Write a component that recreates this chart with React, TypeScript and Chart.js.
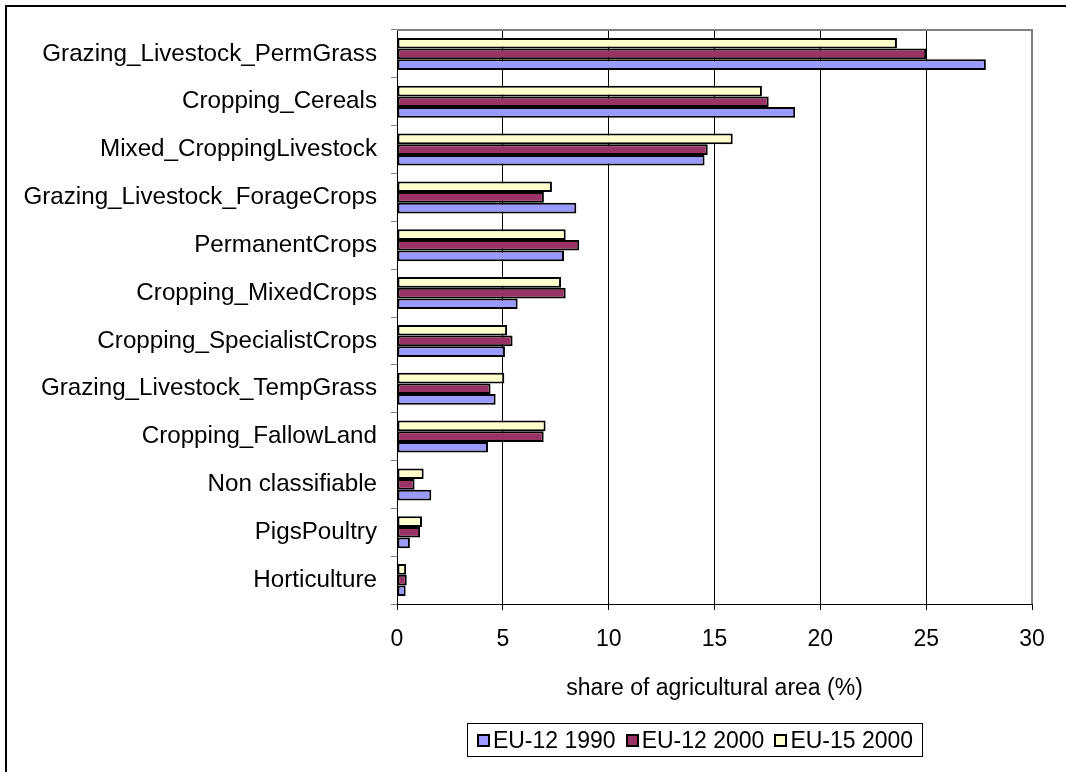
import React, { useEffect, useRef } from "react";
import { Chart, registerables } from "chart.js";

Chart.register(...registerables);

const categories = [
  "Grazing_Livestock_PermGrass",
  "Cropping_Cereals",
  "Mixed_CroppingLivestock",
  "Grazing_Livestock_ForageCrops",
  "PermanentCrops",
  "Cropping_MixedCrops",
  "Cropping_SpecialistCrops",
  "Grazing_Livestock_TempGrass",
  "Cropping_FallowLand",
  "Non classifiable",
  "PigsPoultry",
  "Horticulture",
];

const eu12_1990 = [27.82, 18.81, 14.53, 8.47, 7.89, 5.7, 5.1, 4.66, 4.3, 1.62, 0.61, 0.41];
const eu12_2000 = [25.0, 17.56, 14.68, 6.94, 8.61, 7.97, 5.46, 4.42, 6.93, 0.83, 1.09, 0.46];
const eu15_2000 = [23.62, 17.24, 15.86, 7.32, 7.97, 7.75, 5.2, 5.07, 7.02, 1.26, 1.18, 0.43];

const seriesNames = ["EU-12 1990", "EU-12 2000", "EU-15 2000"];
const seriesColors = ["#9999FF", "#993366", "#FFFFCC"];

const xMin = 0;
const xMax = 30;
const xStep = 5;
const xTitle = "share of agricultural area (%)";

const FONT = "'Liberation Sans', Arial, sans-serif";

const plotFrame = {
  id: "plotFrame",
  afterDraw(chart: any) {
    const { ctx, chartArea } = chart;
    ctx.save();
    ctx.strokeStyle = "#808080";
    ctx.lineWidth = 2;
    ctx.beginPath();
    ctx.moveTo(chartArea.left, chartArea.top);
    ctx.lineTo(chartArea.right, chartArea.top);
    ctx.lineTo(chartArea.right, chartArea.bottom);
    ctx.stroke();
    ctx.restore();
  },
};

export default function App() {
  const ref = useRef<HTMLCanvasElement | null>(null);

  useEffect(() => {
    if (!ref.current) return;
    // datasets top-to-bottom within each group: EU-15 2000, EU-12 2000, EU-12 1990
    const values = [eu12_1990, eu12_2000, eu15_2000];
    const order = [2, 1, 0];
    const chart = new Chart(ref.current, {
      type: "bar",
      data: {
        labels: categories,
        datasets: order.map((i) => ({
          label: seriesNames[i],
          data: values[i],
          backgroundColor: seriesColors[i],
          borderColor: "#000000",
          borderWidth: 2,
          borderSkipped: false,
          categoryPercentage: 0.67,
          barPercentage: 1.0,
        })),
      },
      options: {
        indexAxis: "y",
        responsive: false,
        animation: false,
        layout: { padding: { top: 30, right: 34, left: 0, bottom: 70 } },
        plugins: {
          legend: { display: false },
          tooltip: { enabled: false },
        },
        scales: {
          x: {
            min: xMin,
            max: xMax,
            ticks: {
              stepSize: xStep,
              color: "#000",
              font: { family: FONT, size: 23 },
              padding: 16,
            },
            grid: {
              color: "#000",
              lineWidth: 1,
              tickLength: 6,
              drawOnChartArea: true,
            },
            border: { display: true, color: "#000", width: 1 },
            title: {
              display: true,
              text: xTitle,
              color: "#000",
              font: { family: FONT, size: 23 },
              padding: 0,
            },
            afterFit(scale: any) {
              scale.height = 98;
            },
          },
          y: {
            ticks: {
              color: "#000",
              font: { family: FONT, size: 24.2 },
              padding: 14,
              autoSkip: false,
            },
            grid: {
              color: "#808080",
              drawOnChartArea: false,
              tickLength: 6,
              lineWidth: 1,
            },
            border: { display: true, color: "#000", width: 1 },
            afterFit(scale: any) {
              scale.width = 397;
            },
          },
        },
      },
      plugins: [plotFrame],
    });
    return () => chart.destroy();
  }, []);

  return (
    <div
      style={{
        position: "fixed",
        left: 0,
        top: 0,
        width: 1066,
        height: 772,
        background: "#fff",
        overflow: "hidden",
      }}
    >
      <div
        style={{
          position: "absolute",
          left: 5,
          top: 5,
          width: 1200,
          height: 900,
          borderLeft: "2px solid #000",
          borderTop: "2px solid #000",
        }}
      />
      <canvas
        ref={ref}
        width={1066}
        height={772}
        style={{ position: "absolute", left: 0, top: 0, width: 1066, height: 772 }}
      />
      <div
        style={{
          position: "absolute",
          left: 467,
          top: 723,
          width: 456,
          height: 34,
          boxSizing: "border-box",
          border: "1px solid #000",
          display: "flex",
          alignItems: "center",
          justifyContent: "center",
          fontFamily: FONT,
          fontSize: 23,
          color: "#000",
          whiteSpace: "nowrap",
        }}
      >
        {seriesNames.map((name, i) => (
          <div
            key={name}
            style={{ display: "flex", alignItems: "center", marginLeft: i === 0 ? 0 : 10 }}
          >
            <span
              style={{
                display: "inline-block",
                width: 13,
                height: 13,
                boxSizing: "border-box",
                border: "2px solid #000",
                background: seriesColors[i],
                marginRight: 3,
              }}
            />
            <span>{name}</span>
          </div>
        ))}
      </div>
    </div>
  );
}
